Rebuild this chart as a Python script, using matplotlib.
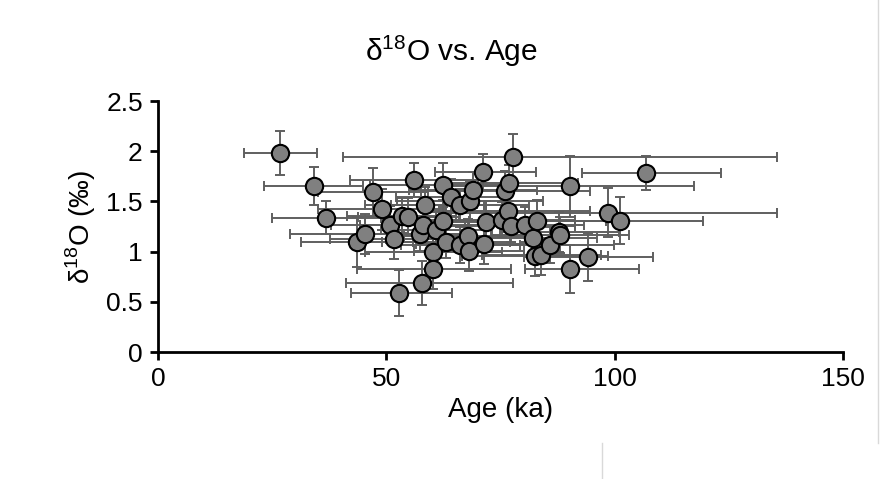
import matplotlib
matplotlib.use("Agg")
import matplotlib.pyplot as plt
from matplotlib.lines import Line2D

plt.rcParams['font.family'] = ['Liberation Sans', 'DejaVu Sans']

# age (ka), d18O (permil) and their error bars
age = [26.7, 34.1, 36.8, 43.5, 45.3, 47.1, 49.1, 50.8, 51.7, 52.8,
       53.3, 54.8, 56.0, 57.4, 57.8, 58.1, 58.4, 60.2, 60.2, 60.8,
       62.3, 62.4, 63.1, 64.1, 66.1, 66.2, 67.9, 68.1, 68.3, 69.0,
       71.2, 71.4, 71.8, 75.3, 76.0, 76.5, 76.9, 77.2, 77.8, 80.3,
       82.1, 82.5, 83.0, 83.9, 85.8, 87.8, 88.0, 90.2, 90.2, 94.2,
       98.5, 101.1, 106.9]
d18o = [1.98, 1.65, 1.34, 1.10, 1.18, 1.59, 1.42, 1.27, 1.13, 0.59,
        1.36, 1.35, 1.71, 1.18, 0.69, 1.27, 1.46, 1.00, 0.83, 1.22,
        1.31, 1.66, 1.10, 1.54, 1.46, 1.07, 1.16, 1.01, 1.50, 1.61,
        1.79, 1.08, 1.30, 1.32, 1.60, 1.41, 1.68, 1.26, 1.94, 1.27,
        1.14, 0.96, 1.31, 0.97, 1.07, 1.20, 1.17, 1.65, 0.83, 0.95,
        1.39, 1.31, 1.78]
age_err_lo = [7.8, 10.8, 11.9, 12.3, 16.4, 12.0, 14.0, 13.0, 14.0, 10.5,
              12.0, 11.0, 14.0, 12.0, 16.7, 14.0, 13.0, 15.0, 16.7, 12.0,
              13.0, 16.0, 14.0, 12.0, 15.0, 13.0, 14.0, 12.0, 16.0, 14.0,
              10.5, 15.0, 13.0, 16.0, 18.5, 18.0, 15.0, 14.0, 37.4, 13.0,
              14.0, 16.0, 15.0, 13.0, 14.0, 13.0, 15.0, 27.0, 9.9, 14.0,
              37.0, 18.0, 14.2]
age_err_hi = [8.2, 10.8, 11.9, 12.3, 16.4, 12.0, 14.0, 13.0, 14.0, 11.5,
              12.0, 11.0, 14.0, 12.0, 19.8, 14.0, 13.0, 15.0, 17.1, 12.0,
              13.0, 16.0, 14.0, 12.0, 15.0, 13.0, 14.0, 12.0, 16.0, 14.0,
              11.5, 15.0, 13.0, 16.0, 18.5, 18.0, 15.0, 14.0, 57.6, 13.0,
              14.0, 16.0, 15.0, 13.0, 14.0, 13.0, 15.0, 27.1, 15.1, 14.2,
              37.0, 18.1, 16.4]
d18o_err = [0.22, 0.19, 0.16, 0.25, 0.20, 0.24, 0.20, 0.18, 0.20, 0.23,
            0.17, 0.18, 0.17, 0.18, 0.22, 0.20, 0.18, 0.20, 0.20, 0.18,
            0.20, 0.22, 0.16, 0.18, 0.16, 0.18, 0.17, 0.20, 0.19, 0.18,
            0.18, 0.20, 0.20, 0.17, 0.20, 0.18, 0.18, 0.16, 0.23, 0.17,
            0.18, 0.20, 0.20, 0.20, 0.18, 0.20, 0.18, 0.30, 0.24, 0.24,
            0.24, 0.23, 0.17]

fig = plt.figure(figsize=(8.83, 4.79), dpi=100)
ax = fig.add_axes([0.179, 0.265, 0.776, 0.524])

ax.errorbar(age, d18o, xerr=[age_err_lo, age_err_hi], yerr=d18o_err,
            fmt='none', ecolor='#5f5f5f', elinewidth=1.4, capsize=3.8,
            capthick=1.4, zorder=2)
ax.scatter(age, d18o, s=155, c='#808080', edgecolors='black',
           linewidths=1.5, zorder=3)

ax.set_xlim(0, 150)
ax.set_ylim(0, 2.5)
ax.set_xticks([0, 50, 100, 150])
ax.set_yticks([0, 0.5, 1, 1.5, 2, 2.5])
ax.set_yticklabels(['0', '0.5', '1', '1.5', '2', '2.5'])
for side in ['top', 'right']:
    ax.spines[side].set_visible(False)
for side in ['left', 'bottom']:
    ax.spines[side].set_linewidth(2)
    ax.spines[side].set_color('black')
ax.tick_params(direction='out', length=6, width=2, labelsize=19, pad=5)

ax.set_xlabel('Age (ka)', fontsize=20, labelpad=4)
ax.set_ylabel(r'δ$^{\mathregular{18}}$O (‰)', fontsize=20, labelpad=6)
fig.text(0.511, 0.894, r'δ$^{\mathregular{18}}$O vs. Age', ha='center',
         va='center', fontsize=21.5)

# light chart-area border
fig.add_artist(Line2D([0.994, 0.994], [0.075, 1.0], color='#d9d9d9', lw=1))
fig.add_artist(Line2D([0.682, 0.682], [0.0, 0.075], color='#d9d9d9', lw=1))

fig.savefig('out.png', dpi=100)
